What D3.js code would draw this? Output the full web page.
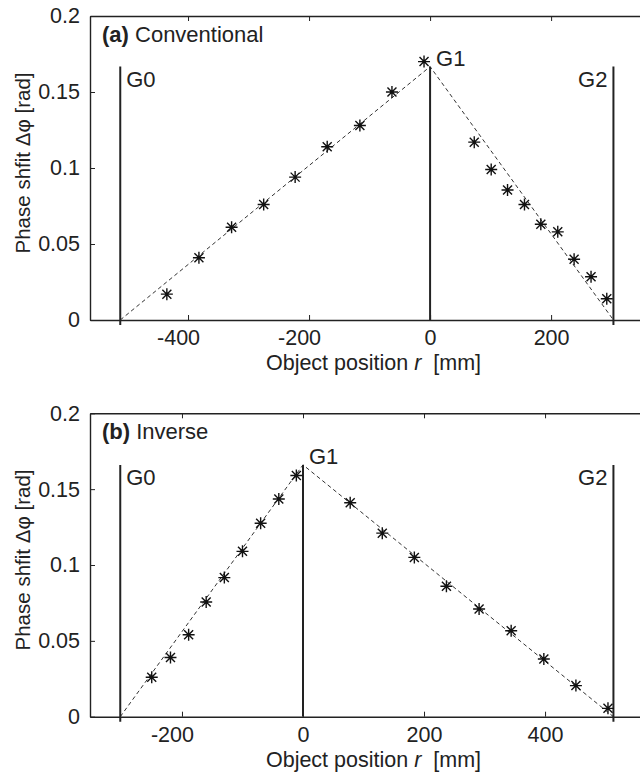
<!DOCTYPE html>
<html>
<head>
<meta charset="utf-8">
<script src="https://cdn.jsdelivr.net/npm/d3@7"></script>
<style>
  body { margin: 0; background: #fff; }
  svg { display: block; }
  text { font-family: "Liberation Sans", Arial, sans-serif; fill: #222; }
</style>
</head>
<body>
<div id="chart"></div>
<script>
// panel (a) conventional
var convLeftR = [-435, -382, -328, -275, -223, -170, -116, -63, -10];
var convLeftV = [0.017, 0.041, 0.061, 0.076, 0.094, 0.114, 0.128, 0.150, 0.170];
var convRightR = [73, 101, 128, 156, 183, 211, 238, 266, 292];
var convRightV = [0.117, 0.099, 0.0855, 0.076, 0.063, 0.058, 0.040, 0.0285, 0.014];
var convGratings = ["G0", "G1", "G2"];
var convGratingR = [-512, 0, 303];
var convPeak = 0.1667;

// panel (b) inverse
var invLeftR = [-250, -219, -189, -160, -130, -100, -70, -40, -11];
var invLeftV = [0.026, 0.039, 0.054, 0.0756, 0.0917, 0.109, 0.1275, 0.1435, 0.159];
var invRightR = [78, 131, 184, 237, 291, 344, 398, 451, 504];
var invRightV = [0.141, 0.121, 0.105, 0.086, 0.071, 0.0567, 0.038, 0.0205, 0.0055];
var invGratings = ["G0", "G1", "G2"];
var invGratingR = [-302, 0, 513];
var invPeak = 0.166;

var yTicks = [0, 0.05, 0.1, 0.15, 0.2];
var yTickLabels = ["0", "0.05", "0.1", "0.15", "0.2"];
var convXTicks = [-400, -200, 0, 200];
var invXTicks = [-200, 0, 200, 400];

var svgWidth = 640;
var svgHeight = 772;
var ink = "#222";

var svg = d3.select("#chart")
  .append("svg")
  .attr("width", svgWidth)
  .attr("height", svgHeight);

function drawPanel(p) {
  var x = d3.scaleLinear().domain(p.xDomain).range([90, 657]);
  var y = d3.scaleLinear().domain([0, 0.2]).range([p.bottom, p.top]);

  var g = svg.append("g");

  // top frame with inward ticks
  g.append("g")
    .attr("transform", `translate(0, ${p.top})`)
    .call(d3.axisTop(x).tickValues(p.xTicks).tickSizeInner(-5).tickSizeOuter(0).tickFormat(""));

  var xAxis = g.append("g")
    .attr("transform", `translate(0, ${p.bottom})`)
    .call(d3.axisBottom(x).tickValues(p.xTicks).tickSizeInner(-5).tickSizeOuter(0).tickPadding(10)
      .tickFormat(d => String(d)));
  xAxis.selectAll("text")
    .attr("dx", d => d < 0 ? -10 : 0);

  var yAxis = g.append("g")
    .attr("transform", "translate(90, 0)")
    .call(d3.axisLeft(y).tickValues(yTicks).tickSizeInner(-5).tickSizeOuter(0).tickPadding(10)
      .tickFormat((d, i) => yTickLabels[i]));

  g.selectAll(".domain").attr("stroke", ink).attr("stroke-width", 1.4);
  g.selectAll(".tick line").attr("stroke", ink).attr("stroke-width", 1);
  g.selectAll(".tick text").attr("font-size", 21.5).attr("font-family", null).style("fill", ink);

  // dashed model line G0 -> G1 -> G2
  var model = [[p.gratingR[0], 0], [p.gratingR[1], p.peak], [p.gratingR[2], 0]];
  g.append("path")
    .datum(model)
    .attr("fill", "none")
    .attr("stroke", "#333")
    .attr("stroke-width", 1)
    .attr("stroke-dasharray", "4,3")
    .attr("d", d3.line().x(d => x(d[0])).y(d => y(d[1])));

  // grating lines
  g.selectAll(".grating")
    .data(p.gratings)
    .enter()
    .append("line")
    .attr("x1", (d, i) => x(p.gratingR[i]))
    .attr("x2", (d, i) => x(p.gratingR[i]))
    .attr("y1", (d, i) => y(0) + (i === 1 ? 0 : 5))
    .attr("y2", y(p.peak))
    .attr("stroke", ink)
    .attr("stroke-width", 2);

  g.selectAll(".glabel")
    .data(p.gratings)
    .enter()
    .append("text")
    .attr("x", (d, i) => x(p.gratingR[i]) + (i === 2 ? -6 : 6))
    .attr("y", (d, i) => y(p.peak) + (i === 1 ? -1 : 20))
    .attr("text-anchor", (d, i) => i === 2 ? "end" : "start")
    .attr("font-size", 22)
    .text(d => d);

  // asterisk markers
  var pts = p.leftR.map((r, i) => [r, p.leftV[i]])
    .concat(p.rightR.map((r, i) => [r, p.rightV[i]]));
  var a = 6, b = 4.5;
  var star = `M0,${-a}V${a}M${-a},0H${a}M${-b},${-b}L${b},${b}M${-b},${b}L${b},${-b}`;
  g.selectAll(".pt")
    .data(pts)
    .enter()
    .append("path")
    .attr("transform", d => `translate(${x(d[0])}, ${y(d[1])})`)
    .attr("d", star)
    .attr("fill", "none")
    .attr("stroke", "#111")
    .attr("stroke-width", 1.4);

  // panel title
  var title = g.append("text")
    .attr("x", 102)
    .attr("y", p.top + 26)
    .attr("font-size", 22);
  title.append("tspan").attr("font-weight", "bold").text(p.tag);
  title.append("tspan").text(" " + p.name);

  // axis labels
  var xl = g.append("text")
    .attr("x", 373.5)
    .attr("y", p.bottom + 50)
    .attr("text-anchor", "middle")
    .attr("font-size", 21.5);
  xl.append("tspan").text("Object position ");
  xl.append("tspan").attr("font-style", "italic").text("r");
  xl.append("tspan").attr("xml:space", "preserve").text("  [mm]");

  g.append("text")
    .attr("transform", `translate(30, ${(p.top + p.bottom) / 2 - 5}) rotate(-90)`)
    .attr("text-anchor", "middle")
    .attr("font-size", 21)
    .attr("textLength", 181)
    .attr("lengthAdjust", "spacingAndGlyphs")
    .text("Phase shfit \u0394\u03c6 [rad]");
}

drawPanel({
  top: 16, bottom: 320, xDomain: [-562, 375], xTicks: convXTicks,
  leftR: convLeftR, leftV: convLeftV, rightR: convRightR, rightV: convRightV,
  gratings: convGratings, gratingR: convGratingR, peak: convPeak,
  tag: "(a)", name: "Conventional"
});

drawPanel({
  top: 413.3, bottom: 716.7, xDomain: [-352, 585], xTicks: invXTicks,
  leftR: invLeftR, leftV: invLeftV, rightR: invRightR, rightV: invRightV,
  gratings: invGratings, gratingR: invGratingR, peak: invPeak,
  tag: "(b)", name: "Inverse"
});
</script>
</body>
</html>
